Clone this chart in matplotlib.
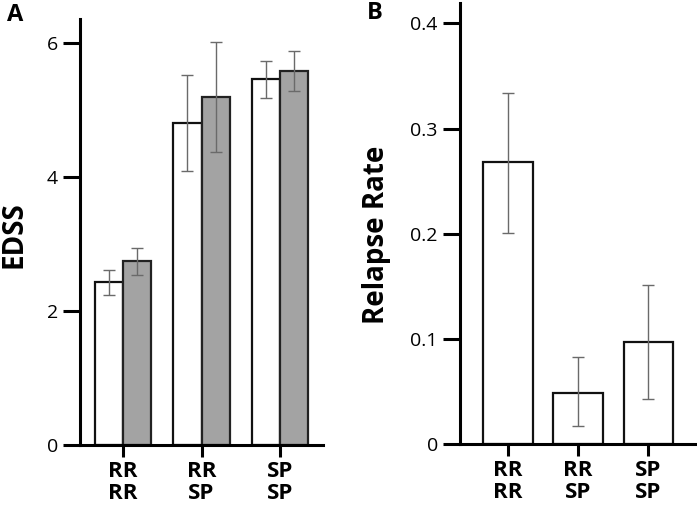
import matplotlib
matplotlib.use("Agg")
import matplotlib.pyplot as plt
import numpy as np

plt.rcParams['font.family'] = ['Open Sans', 'DejaVu Sans']

# ---- data ----
categories = ["RR\nRR", "RR\nSP", "SP\nSP"]
edss_white = [2.43, 4.81, 5.46]
edss_white_lo = [2.24, 4.09, 5.18]
edss_white_hi = [2.62, 5.53, 5.74]
edss_gray = [2.74, 5.20, 5.59]
edss_gray_lo = [2.54, 4.38, 5.29]
edss_gray_hi = [2.94, 6.02, 5.88]
edss_ticks = [0, 2, 4, 6]

relapse = [0.268, 0.049, 0.097]
relapse_lo = [0.201, 0.017, 0.043]
relapse_hi = [0.334, 0.083, 0.151]
relapse_ticks = [0, 0.1, 0.2, 0.3, 0.4]
relapse_ticklabels = ["0", "0.1", "0.2", "0.3", "0.4"]

W, H = 697, 512
fig = plt.figure(figsize=(W / 100, H / 100), dpi=100)

gray_fill = "#a3a3a3"
err_color = "#6a6a6a"


def style_axes(ax):
    for s in ["top", "right"]:
        ax.spines[s].set_visible(False)
    for s in ["left", "bottom"]:
        ax.spines[s].set_linewidth(2.2)
    ax.tick_params(axis="y", length=12, width=2.2, pad=4, labelsize=14)
    ax.tick_params(axis="x", length=8.5, width=2.2, pad=3, labelsize=16)
    for lab in ax.get_xticklabels():
        lab.set_fontweight("bold")
        lab.set_linespacing(1.05)


# ---- Panel A ----
axA = fig.add_axes([80 / W, 1 - 445 / H, 243 / W, 426 / H])
x = np.arange(len(categories))
bw = 0.357
axA.bar(x - bw / 2, edss_white, width=bw, color="white", edgecolor="#111111",
        linewidth=1.6, zorder=2)
axA.bar(x + bw / 2, edss_gray, width=bw, color=gray_fill, edgecolor="#222222",
        linewidth=1.6, zorder=2)
wy = np.array(edss_white)
gy = np.array(edss_gray)
axA.errorbar(x - bw / 2, wy,
             yerr=[wy - np.array(edss_white_lo), np.array(edss_white_hi) - wy],
             fmt="none", ecolor=err_color, elinewidth=1.0, capsize=4, capthick=1.0,
             zorder=3)
axA.errorbar(x + bw / 2, gy,
             yerr=[gy - np.array(edss_gray_lo), np.array(edss_gray_hi) - gy],
             fmt="none", ecolor=err_color, elinewidth=1.0, capsize=4, capthick=1.0,
             zorder=3)
axA.set_xlim(-0.548, 2.548)
axA.set_ylim(0, 6.36)
axA.set_yticks(edss_ticks)
axA.set_xticks(x)
axA.set_xticklabels(categories)
style_axes(axA)
axA.set_ylabel("EDSS", fontsize=20, fontweight="bold", va="center")
axA.yaxis.set_label_coords(-0.27, 0.495)
fig.text(7 / W, 1 - 15 / H, "A", fontsize=17, fontweight="bold", va="center", ha="left")

# ---- Panel B ----
axB = fig.add_axes([460 / W, 1 - 444.3 / H, 235 / W, 441.3 / H])
xb = np.arange(len(categories))
ry = np.array(relapse)
axB.bar(xb, relapse, width=0.706, color="white", edgecolor="#111111",
        linewidth=1.6, zorder=2)
axB.errorbar(xb, ry,
             yerr=[ry - np.array(relapse_lo), np.array(relapse_hi) - ry],
             fmt="none", ecolor=err_color, elinewidth=1.0, capsize=4, capthick=1.0,
             zorder=3)
axB.set_xlim(-0.679, 2.664)
axB.set_ylim(0, 0.4193)
axB.set_yticks(relapse_ticks)
axB.set_yticklabels(relapse_ticklabels)
axB.set_xticks(xb)
axB.set_xticklabels(categories)
style_axes(axB)
axB.set_ylabel("Relapse Rate", fontsize=20, fontweight="bold", va="center")
axB.yaxis.set_label_coords(-0.357, 0.475)
fig.text(367 / W, 1 - 13 / H, "B", fontsize=17, fontweight="bold", va="center", ha="left")

fig.savefig("out.png", dpi=100)
